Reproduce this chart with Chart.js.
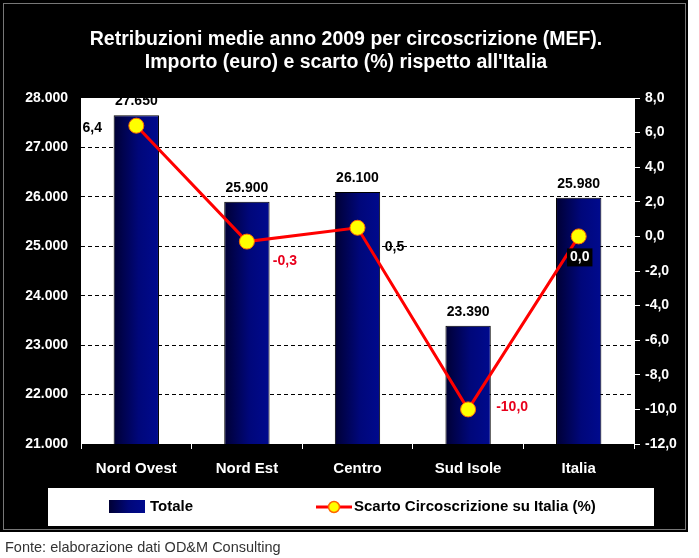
<!DOCTYPE html>
<html>
<head>
<meta charset="utf-8">
<script src="https://cdn.jsdelivr.net/npm/chart.js@4"></script>
<style>
  body { margin: 0; background: #fff; }
  #wrap { position: relative; width: 699px; height: 558px; }
  #fonte { position: absolute; left: 5px; top: 539px; font: 14.5px "Liberation Sans", Arial, sans-serif; color: #333; }
</style>
</head>
<body>
<div id="wrap">
  <canvas id="chart" width="699" height="558"></canvas>
  <div id="fonte">Fonte: elaborazione dati OD&amp;M Consulting</div>
</div>
<script>
const categories = ['Nord Ovest', 'Nord Est', 'Centro', 'Sud Isole', 'Italia'];
const totale = [27650, 25900, 26100, 23390, 25980];
const scarto = [6.4, -0.3, 0.5, -10.0, 0.0];
const titleLines = ['Retribuzioni medie anno 2009 per circoscrizione (MEF).', "Importo (euro) e scarto (%) rispetto all'Italia"];

// where each line label sits relative to its point
const lineLabelPlace = [
  { dx: -44, dy: 2, color: '#000' },
  { dx: 38, dy: 20, color: '#e8001c' },
  { dx: 37, dy: 19, color: '#000' },
  { dx: 44, dy: -2, color: '#e8001c' },
  { dx: 1, dy: 21, color: '#fff', box: true }
];

const FONT = '"Liberation Sans", Arial, sans-serif';
const BAR_PCT = 0.41;

const fmtEuro = v => {
  const k = Math.floor(v / 1000);
  const r = String(v % 1000).padStart(3, '0');
  return k + '.' + r;
};
const fmtPct = v => v.toFixed(1).replace('.', ',');

function barGradient(ctx, x0, x1) {
  const g = ctx.createLinearGradient(x0, 0, x1, 0);
  g.addColorStop(0, '#000034');
  g.addColorStop(0.55, '#00077a');
  g.addColorStop(1, '#000a8e');
  return g;
}

const background = {
  id: 'background',
  beforeDraw(chart) {
    const c = chart.ctx, a = chart.chartArea;
    c.save();
    c.fillStyle = '#fff';
    c.fillRect(0, 0, chart.width, chart.height);
    c.fillStyle = '#000';
    c.fillRect(0, 0, 688, 532);
    c.strokeStyle = '#777';
    c.lineWidth = 1;
    c.strokeRect(3.5, 3.5, 682, 526);
    c.fillStyle = '#fff';
    c.fillRect(a.left, a.top, a.right - a.left, a.bottom - a.top);
    c.restore();
  }
};

const decorations = {
  id: 'decorations',
  afterDatasetsDraw(chart) {
    const c = chart.ctx;
    c.save();
    // bar values
    c.font = 'bold 14px ' + FONT;
    c.textAlign = 'center';
    c.textBaseline = 'middle';
    c.fillStyle = '#000';
    chart.getDatasetMeta(0).data.forEach((bar, i) => {
      c.fillText(fmtEuro(totale[i]), bar.x, bar.y - 14);
    });
    // line values
    chart.getDatasetMeta(1).data.forEach((pt, i) => {
      const p = lineLabelPlace[i];
      const txt = fmtPct(scarto[i]);
      const x = pt.x + p.dx, y = pt.y + p.dy;
      if (p.box) {
        const w = c.measureText(txt).width + 6;
        c.fillStyle = '#000';
        c.fillRect(x - w / 2, y - 9, w, 18);
      }
      c.fillStyle = p.color;
      c.fillText(txt, x, y);
    });
    c.restore();
  },
  afterDraw(chart) {
    const c = chart.ctx;
    c.save();
    // title
    c.font = 'bold 19.5px ' + FONT;
    c.textAlign = 'center';
    c.textBaseline = 'middle';
    c.fillStyle = '#fff';
    c.fillText(titleLines[0], 346, 40);
    c.fillText(titleLines[1], 346, 63);
    // legend
    c.fillStyle = '#fff';
    c.fillRect(48, 488, 606, 38);
    c.fillStyle = barGradient(c, 109, 145);
    c.fillRect(109, 500, 36, 13);
    c.font = 'bold 15px ' + FONT;
    c.textAlign = 'left';
    c.fillStyle = '#000';
    c.fillText(chart.data.datasets[0].label, 150, 507);
    c.strokeStyle = '#ff0000';
    c.lineWidth = 3;
    c.beginPath();
    c.moveTo(316, 507);
    c.lineTo(352, 507);
    c.stroke();
    c.beginPath();
    c.arc(334, 507, 5.5, 0, Math.PI * 2);
    c.fillStyle = '#ffff00';
    c.fill();
    c.lineWidth = 1.5;
    c.strokeStyle = '#ff6600';
    c.stroke();
    c.fillStyle = '#000';
    c.fillText(chart.data.datasets[1].label, 354, 507);
    c.restore();
  }
};

new Chart(document.getElementById('chart'), {
  data: {
    labels: categories,
    datasets: [
      {
        type: 'bar',
        label: 'Totale',
        data: totale,
        yAxisID: 'y',
        order: 1,
        barPercentage: BAR_PCT,
        categoryPercentage: 1,
        borderColor: '#000',
        borderWidth: 1,
        backgroundColor: (ctx) => {
          const chart = ctx.chart;
          if (!chart.chartArea || !chart.scales.x) return '#000a80';
          const xs = chart.scales.x;
          const cx = xs.getPixelForValue(ctx.dataIndex);
          const half = xs.width / categories.length * BAR_PCT / 2;
          return barGradient(chart.ctx, cx - half, cx + half);
        }
      },
      {
        type: 'line',
        label: 'Scarto Circoscrizione su Italia (%)',
        data: scarto,
        yAxisID: 'y1',
        order: 0,
        borderColor: '#ff0000',
        borderWidth: 3,
        pointRadius: 7.5,
        pointBackgroundColor: '#ffff00',
        pointBorderColor: '#ff6a00',
        pointBorderWidth: 1,
        tension: 0
      }
    ]
  },
  options: {
    responsive: false,
    animation: false,
    devicePixelRatio: 1,
    layout: { padding: { top: 98, left: 0, right: 0, bottom: 0 } },
    plugins: {
      legend: { display: false },
      title: { display: false },
      tooltip: { enabled: false }
    },
    scales: {
      x: {
        offset: true,
        grid: { offset: true, drawOnChartArea: false, drawTicks: true, tickLength: 5, color: '#fff' },
        border: { display: false },
        ticks: { color: '#fff', font: { family: FONT, size: 15, weight: 'bold' }, padding: 11, maxRotation: 0 },
        afterFit: s => { s.height = 114; }
      },
      y: {
        position: 'left',
        min: 21000,
        max: 28000,
        ticks: { stepSize: 1000, color: '#fff', font: { family: FONT, size: 14, weight: 'bold' }, padding: 13, callback: v => fmtEuro(v) },
        grid: {
          drawTicks: false,
          color: c => (c.tick && (c.tick.value === 21000 || c.tick.value === 28000)) ? 'rgba(0,0,0,0)' : '#000'
        },
        border: { display: false, dash: [4, 3] },
        afterFit: s => { s.width = 81; }
      },
      y1: {
        position: 'right',
        min: -12,
        max: 8,
        ticks: { stepSize: 2, color: '#fff', font: { family: FONT, size: 14, weight: 'bold' }, padding: 5, callback: v => fmtPct(v) },
        grid: { drawOnChartArea: false, drawTicks: true, tickLength: 6, color: '#fff' },
        border: { display: true, color: '#fff' },
        afterFit: s => { s.width = 65; }
      }
    }
  },
  plugins: [background, decorations]
});
</script>
</body>
</html>
